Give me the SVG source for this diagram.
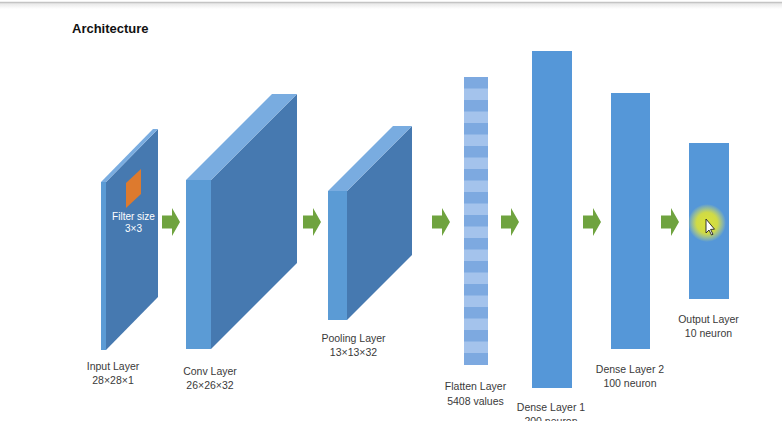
<svg xmlns="http://www.w3.org/2000/svg" width="782" height="421" viewBox="0 0 782 421">
<defs>
<style>
.front{fill:#5B9BD5}
.side{fill:#4679B0}
.top{fill:#79ACE0}
.dense{fill:#5597D8}
.s1{fill:#7DA9E0}
.s2{fill:#A4C3EC}
.arrow{fill:#6FA33F}
.lbl{font-family:"Liberation Sans",Arial,sans-serif;font-size:10.5px;fill:#3A3A3A;text-anchor:middle}
.wlbl{font-family:"Liberation Sans",Arial,sans-serif;font-size:10px;fill:#FFFFFF;text-anchor:middle}
.title{font-family:"Liberation Sans",Arial,sans-serif;font-size:13px;font-weight:bold;fill:#111111}
</style>
<path id="arr" d="M0,-6.5 H10 V-14 L18,0 L10,14 V6.5 H0 Z"/>
<linearGradient id="shade" x1="0" y1="0" x2="0" y2="1">
<stop offset="0" stop-color="#E6E6E6"/>
<stop offset="1" stop-color="#FFFFFF"/>
</linearGradient>
<radialGradient id="glow" cx="0.5" cy="0.5" r="0.5">
<stop offset="0" stop-color="#DCE23A" stop-opacity="1"/>
<stop offset="0.55" stop-color="#D6DE3E" stop-opacity="0.95"/>
<stop offset="1" stop-color="#E8EC60" stop-opacity="0"/>
</radialGradient>
</defs>
<rect x="0" y="0" width="782" height="421" fill="#FFFFFF"/>
<rect x="0" y="3" width="782" height="6" fill="url(#shade)"/>
<line x1="0" y1="2.5" x2="782" y2="2.5" stroke="#C4C4C4" stroke-width="1.5"/>
<text class="title" x="72" y="33">Architecture</text>

<g id="input-layer">
<rect class="front" x="101" y="182" width="5" height="168"/>
<polygon class="side" points="106,182 158,129 158,297 106,350"/>
<polygon class="top" points="101,182 153,129 158,129 106,182"/>
<polygon points="126,183 141,169 141,194 126,208" fill="#DD7A2E"/>
<text class="wlbl" x="133.5" y="220">Filter size</text>
<text class="wlbl" x="133.5" y="232">3×3</text>
<text class="lbl" x="113" y="370">Input Layer</text>
<text class="lbl" x="113" y="384">28×28×1</text>
</g>

<g id="conv-layer">
<rect class="front" x="186" y="180" width="25" height="169"/>
<polygon class="side" points="211,180 297,94 297,263 211,349"/>
<polygon class="top" points="186,180 272,94 297,94 211,180"/>
<text class="lbl" x="210" y="375">Conv Layer</text>
<text class="lbl" x="210" y="389">26×26×32</text>
</g>

<g id="pooling-layer">
<rect class="front" x="328" y="191" width="19" height="129"/>
<polygon class="side" points="347,191 412,126 412,255 347,320"/>
<polygon class="top" points="328,191 393,126 412,126 347,191"/>
<text class="lbl" x="353.5" y="342">Pooling Layer</text>
<text class="lbl" x="353.5" y="356">13×13×32</text>
</g>

<g id="flatten-layer">
<rect class="s1" x="464" y="77" width="24" height="288"/>
<rect class="s2" x="464" y="88.5" width="24" height="11.5"/>
<rect class="s2" x="464" y="111.5" width="24" height="11.5"/>
<rect class="s2" x="464" y="134.5" width="24" height="11.5"/>
<rect class="s2" x="464" y="157.5" width="24" height="11.5"/>
<rect class="s2" x="464" y="180.5" width="24" height="11.5"/>
<rect class="s2" x="464" y="203.5" width="24" height="11.5"/>
<rect class="s2" x="464" y="226.5" width="24" height="11.5"/>
<rect class="s2" x="464" y="249.5" width="24" height="11.5"/>
<rect class="s2" x="464" y="272.5" width="24" height="11.5"/>
<rect class="s2" x="464" y="295.5" width="24" height="11.5"/>
<rect class="s2" x="464" y="318.5" width="24" height="11.5"/>
<rect class="s2" x="464" y="341.5" width="24" height="11.5"/>
<text class="lbl" x="475.5" y="390">Flatten Layer</text>
<text class="lbl" x="475.5" y="405">5408 values</text>
</g>

<g id="dense-layer-1">
<rect class="dense" x="532" y="51" width="40" height="337"/>
<text class="lbl" x="551" y="411">Dense Layer 1</text>
<text class="lbl" x="551" y="425">200 neuron</text>
</g>

<g id="dense-layer-2">
<rect class="dense" x="611" y="93" width="39" height="256"/>
<text class="lbl" x="630" y="373">Dense Layer 2</text>
<text class="lbl" x="630" y="387">100 neuron</text>
</g>

<g id="output-layer">
<rect class="dense" x="689" y="143" width="40" height="156"/>
<text class="lbl" x="708.5" y="323">Output Layer</text>
<text class="lbl" x="708.5" y="337">10 neuron</text>
</g>

<g id="connectors">
<use href="#arr" class="arrow" transform="translate(162,222)"/>
<use href="#arr" class="arrow" transform="translate(303,222)"/>
<use href="#arr" class="arrow" transform="translate(432,222)"/>
<use href="#arr" class="arrow" transform="translate(501,222)"/>
<use href="#arr" class="arrow" transform="translate(583,222)"/>
<use href="#arr" class="arrow" transform="translate(661,222)"/>
</g>

<g id="cursor">
<circle cx="707" cy="223" r="19" fill="url(#glow)"/>
<polygon points="706,219 706,233 709,230 711.5,235 713,234.3 710.6,229.4 714.5,229.2" fill="#FFFFFF" stroke="#222222" stroke-width="0.9" stroke-linejoin="round"/>
</g>
</svg>
